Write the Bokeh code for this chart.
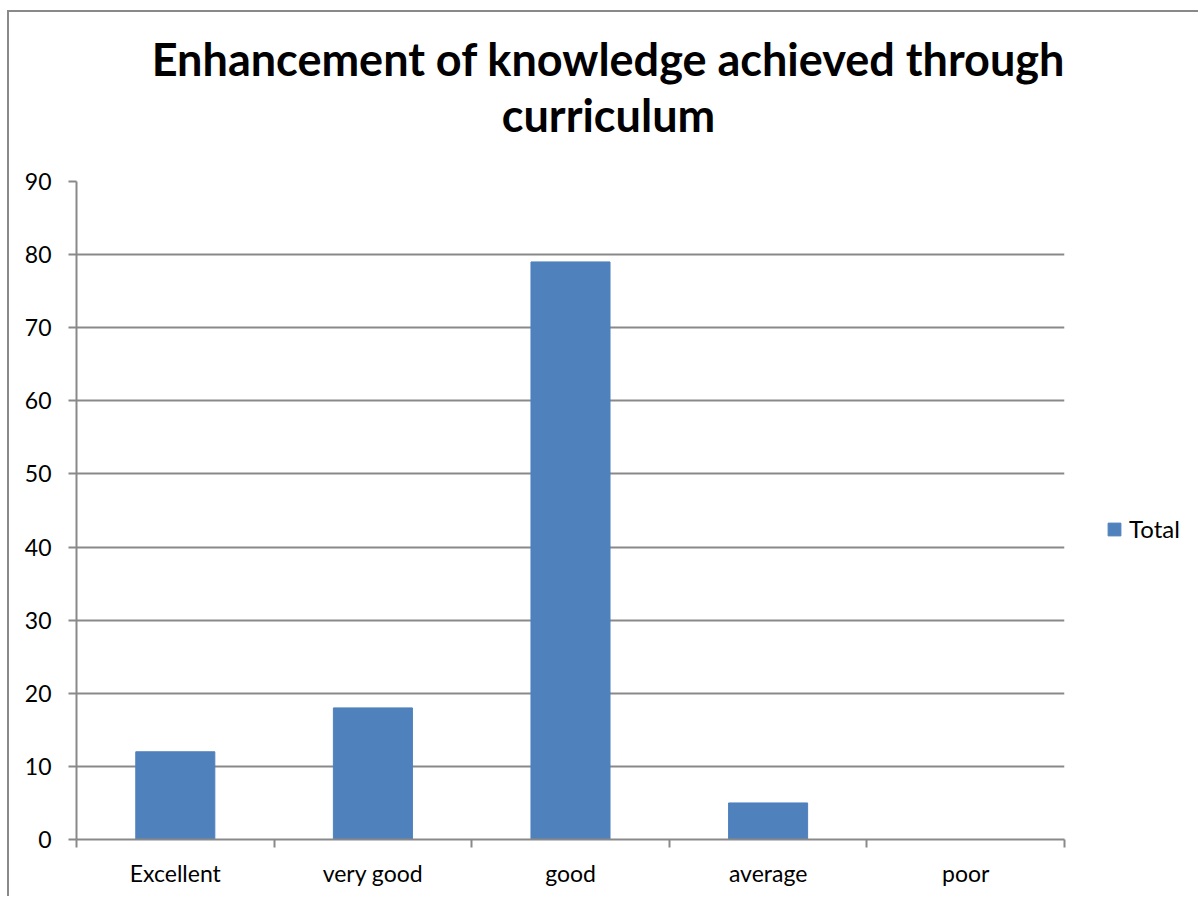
from bokeh.plotting import figure
from bokeh.models import Range1d, FixedTicker, Legend, LegendItem, Title
from bokeh.embed import file_html
from bokeh.resources import INLINE

# ---- data ----
categories = ["Excellent", "very good", "good", "average", "poor"]
totals = [12, 18, 79, 5, 0]
y_ticks = [0, 10, 20, 30, 40, 50, 60, 70, 80, 90]
title_lines = ["Enhancement of knowledge achieved through", "curriculum"]
series_name = "Total"

BAR = "#4F81BD"
GRAY = "#898989"
FONT = "Lato"

n = len(categories)
positions = [i + 0.5 for i in range(n)]
boundaries = list(range(n + 1))

p = figure(frame_width=988, frame_height=658, output_backend="svg",
           toolbar_location=None, title=None,
           x_range=Range1d(0, n), y_range=Range1d(0, y_ticks[-1]),
           min_border_left=67, min_border_right=125, min_border_top=169,
           min_border_bottom=57)
p.outline_line_color = None
p.background_fill_color = "white"
p.border_fill_color = "white"
p.styles = {"border-left": "2px solid " + GRAY, "border-top": "2px solid " + GRAY,
            "margin-top": "10px", "margin-left": "7px"}

r = p.vbar(x=positions, top=totals, width=0.4, fill_color=BAR, line_color=BAR)

# grids
p.xgrid.visible = False
p.ygrid.grid_line_color = GRAY
p.ygrid.grid_line_width = 2

# y axis
ya = p.yaxis[0]
ya.ticker = FixedTicker(ticks=y_ticks)
ya.axis_line_color = GRAY
ya.axis_line_width = 2
ya.major_tick_line_color = GRAY
ya.major_tick_line_width = 2
ya.major_tick_out = 8
ya.major_tick_in = 0
ya.minor_tick_line_color = None
ya.major_label_text_font = FONT
ya.major_label_text_font_size = "23px"
ya.major_label_text_color = "black"
ya.major_label_standoff = 17

# x axis
xa = p.xaxis[0]
xa.ticker = FixedTicker(ticks=positions, minor_ticks=boundaries)
xa.major_label_overrides = {pos: cat for pos, cat in zip(positions, categories)}
xa.axis_line_color = GRAY
xa.axis_line_width = 2
xa.major_tick_line_color = None
xa.major_tick_out = 0
xa.major_tick_in = 0
xa.minor_tick_line_color = GRAY
xa.minor_tick_line_width = 2
xa.minor_tick_out = 8
xa.minor_tick_in = 0
xa.major_label_text_font = FONT
xa.major_label_text_font_size = "23px"
xa.major_label_text_color = "black"
xa.major_label_standoff = 11

# two title lines, each centred (first added sits closest to the plot)
for i, line in enumerate(reversed(title_lines)):
    t = Title(text=line, align="center", text_font=FONT,
              text_font_size="45px", text_font_style="bold", text_color="black",
              text_line_height=1.0, standoff=0,
              padding=dict(top=0, right=0, bottom=40 if i == 0 else 0, left=76))
    p.add_layout(t, "above")

legend = Legend(items=[LegendItem(label=series_name, renderers=[r])],
                location=(42, 296), orientation="vertical")
legend.glyph_width = 16
legend.glyph_height = 16
legend.label_standoff = 7
legend.padding = 0
legend.margin = 0
legend.border_line_color = None
legend.background_fill_alpha = 0
legend.label_text_font = FONT
legend.label_text_font_size = "24px"
legend.label_text_color = "black"
p.add_layout(legend, "right")

open("out.html", "w").write(file_html(p, INLINE))
